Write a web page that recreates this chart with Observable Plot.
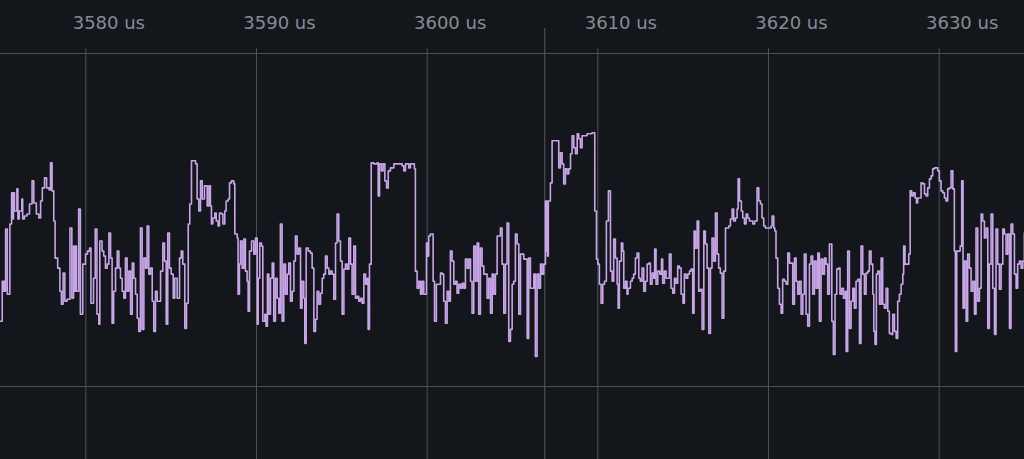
<!DOCTYPE html>
<html>
<head>
<meta charset="utf-8">
<script src="https://cdn.jsdelivr.net/npm/d3@7"></script>
<script src="https://cdn.jsdelivr.net/npm/@observablehq/plot@0.6"></script>
<style>
  html, body { margin: 0; padding: 0; background: #13171c; }
  #chart svg { display: block; }
</style>
</head>
<body>
<div id="chart"></div>
<script>
// x ticks (microseconds)
const tickValues = [3580, 3590, 3600, 3610, 3620, 3630];
const tickLabels = ["3580 us", "3590 us", "3600 us", "3610 us", "3620 us", "3630 us"];
const cursorTime = [3606.89];
const levelGrid = [0, 332];

// sample times (us) and signal levels (step-after)
const times = [
3575.00,3575.10,3575.15,3575.20,3575.25,3575.30,3575.40,3575.55,3575.65,3575.72,3575.76,3575.82,3575.96,3576.02,3576.10,3576.25,3576.30,3576.40,3576.55,3576.70,
3576.85,3576.95,3577.10,3577.25,3577.35,3577.45,3577.58,3577.70,3577.85,3577.93,3578.02,3578.12,3578.20,3578.35,3578.48,3578.57,3578.67,3578.77,3578.90,3579.07,
3579.18,3579.28,3579.35,3579.40,3579.45,3579.58,3579.68,3579.82,3579.98,3580.10,3580.22,3580.30,3580.45,3580.55,3580.65,3580.76,3580.82,3580.95,3581.05,3581.15,
3581.25,3581.35,3581.45,3581.54,3581.63,3581.74,3581.84,3581.94,3582.03,3582.13,3582.23,3582.32,3582.42,3582.52,3582.62,3582.72,3582.81,3582.91,3583.01,3583.10,
3583.20,3583.30,3583.40,3583.50,3583.59,3583.69,3583.79,3583.89,3583.98,3584.08,3584.18,3584.38,3584.51,3584.61,3584.71,3584.80,3584.90,3585.00,3585.12,3585.21,
3585.35,3585.49,3585.59,3585.68,3585.80,3585.90,3586.00,3586.09,3586.19,3586.33,3586.43,3586.52,3586.62,3586.72,3586.82,3586.95,
3587.01,3587.11,3587.21,3587.30,3587.36,3587.44,3587.56,3587.64,3587.75,3587.83,3587.95,3588.03,3588.14,3588.22,3588.34,3588.42,3588.53,3588.67,3588.73,3588.87,
3588.92,3589.00,3589.06,3589.16,3589.26,3589.35,3589.45,3589.51,3589.59,3589.71,3589.84,3589.94,3590.04,3590.10,3590.19,3590.29,3590.37,3590.49,3590.56,3590.64,
3590.72,3590.82,3590.92,3591.01,3591.11,3591.21,3591.31,3591.40,3591.50,3591.60,3591.70,3591.80,3591.89,3591.99,3592.09,3592.19,3592.28,3592.38,3592.48,3592.58,
3592.67,3592.77,3592.83,3592.91,3593.03,3593.16,3593.26,3593.36,3593.46,3593.55,3593.65,3593.75,3593.85,3593.94,3594.04,3594.14,3594.24,3594.33,3594.43,3594.53,
3594.63,3594.72,3594.82,3594.92,3595.02,3595.12,3595.21,3595.31,3595.41,3595.51,3595.60,3595.70,3595.80,3595.90,3595.99,3596.09,3596.19,3596.29,3596.39,3596.48,
3596.54,3596.62,3596.72,3596.87,3597.07,3597.13,3597.21,3597.32,3597.42,3597.52,3597.62,3597.72,3597.85,3598.05,3598.34,3598.53,3598.63,3598.73,3598.92,
3599.02,3599.25,3599.31,3599.41,3599.51,3599.61,3599.70,3599.80,3599.96,3600.04,3600.09,3600.19,3600.35,3600.43,3600.54,3600.78,3600.88,3600.97,3601.07,3601.17,
3601.27,3601.36,3601.46,3601.56,3601.66,3601.75,3601.85,3601.95,3602.05,3602.15,3602.24,3602.34,3602.44,3602.54,3602.63,3602.73,3602.83,3602.93,3603.02,3603.12,
3603.22,3603.32,3603.51,3603.61,3603.71,3603.81,3603.90,3604.00,3604.10,3604.29,3604.39,3604.49,3604.59,3604.68,3604.78,3604.88,3604.98,3605.07,3605.17,3605.27,
3605.37,3605.47,3605.66,3605.86,3605.95,3606.05,3606.25,3606.34,3606.44,3606.54,3606.64,3606.73,3606.83,3606.93,3606.97,3607.01,3607.05,3607.10,3607.15,3607.22,
3607.32,3607.71,3607.81,3607.91,3608.00,3608.10,3608.20,3608.30,3608.40,3608.49,3608.59,3608.69,3608.79,3608.88,3608.98,3609.08,3609.37,3609.66,3609.82,3609.92,
3610.00,3610.09,3610.19,3610.29,3610.39,3610.50,3610.62,3610.74,3610.84,3610.93,
3611.03,3611.13,3611.19,3611.26,3611.38,3611.46,3611.52,3611.62,3611.71,3611.77,3611.91,3612.01,3612.10,3612.20,3612.30,3612.40,3612.49,3612.59,3612.69,3612.79,
3612.89,3612.98,3613.08,3613.18,3613.28,3613.33,3613.41,3613.51,3613.63,3613.73,3613.80,3613.90,3614.00,3614.19,3614.29,3614.39,3614.49,3614.58,3614.68,3614.78,
3614.88,3614.99,3615.07,3615.17,3615.27,3615.37,3615.46,3615.56,3615.64,3615.72,3615.82,3615.91,3616.01,3616.11,3616.21,3616.30,3616.40,3616.50,3616.60,3616.69,
3616.79,3616.89,3616.99,3617.08,3617.18,3617.28,3617.38,3617.48,3617.67,3617.77,3617.87,3617.96,3618.06,3618.16,3618.22,3618.30,3618.41,3618.49,3618.59,3618.69,
3618.78,3618.88,3619.08,3619.19,3619.33,3619.43,3619.53,3619.62,3619.72,3619.82,3620.15,3620.21,3620.31,3620.37,3620.44,3620.54,3620.64,3620.74,3620.83,3620.93,
3621.03,3621.13,3621.23,3621.42,3621.52,3621.62,3621.71,3621.81,3621.91,3622.01,3622.10,3622.20,3622.30,3622.40,3622.49,3622.59,3622.69,3622.79,3622.89,3622.98,
3623.08,3623.18,3623.28,
3623.37,3623.47,3623.57,3623.71,3623.80,3623.90,3624.00,3624.10,3624.19,3624.29,3624.39,3624.49,3624.55,3624.64,3624.74,3624.84,3624.94,3625.03,3625.13,3625.23,
3625.33,3625.42,3625.52,3625.62,3625.72,3625.82,3625.91,3626.01,3626.11,3626.17,3626.24,3626.32,3626.40,3626.50,3626.60,3626.69,3626.79,3626.89,3626.99,3627.08,
3627.18,3627.28,3627.38,3627.48,3627.57,3627.67,3627.77,3627.87,3627.92,3628.00,3628.22,3628.30,3628.39,3628.49,3628.59,3628.67,3628.74,3628.94,3629.04,3629.14,
3629.23,3629.33,3629.43,3629.53,3629.62,3629.72,3629.92,3630.01,3630.11,3630.21,3630.31,3630.40,3630.50,3630.60,3630.70,3630.80,3630.89,3630.95,3631.03,3631.23,
3631.32,3631.40,3631.48,3631.58,3631.67,3631.77,3631.87,3631.97,3632.07,3632.16,3632.26,3632.36,3632.46,3632.55,3632.65,3632.75,3632.85,3632.94,3633.04,3633.14,
3633.24,3633.33,3633.43,3633.53,3633.63,3633.73,3633.82,3633.92,3634.02,3634.12,3634.21,3634.31,3634.41,3634.51,3634.60,3634.70,3634.80,3634.90,3634.99
];
const levels = [
65,105,95,105,95,157,92,162,193,167,193,175,197,167,175,187,167,170,172,182,
205,183,172,168,185,198,208,198,196,223,195,165,128,118,95,82,113,85,87,158,
88,140,95,140,95,177,72,122,132,135,138,83,108,157,72,62,145,135,130,118,
122,153,128,63,95,118,135,118,108,95,88,128,95,115,72,123,108,92,68,55,
158,57,128,118,160,112,118,85,55,95,85,115,143,125,62,153,118,112,88,108,
88,128,135,122,58,83,162,182,225,225,222,187,175,205,187,200,
200,180,200,180,162,168,173,165,160,173,172,162,175,185,187,203,205,202,152,148,
92,122,145,118,147,115,105,75,135,145,132,148,62,108,143,140,65,72,60,112,
72,108,123,65,108,88,73,162,65,122,92,112,123,85,95,125,150,132,138,78,
105,88,43,138,135,133,118,55,67,95,82,93,108,112,130,118,112,115,112,87,
143,172,145,125,72,117,122,117,148,122,92,140,88,90,85,88,83,112,102,108,
57,122,223,222,223,190,222,215,222,205,198,215,218,222,222,220,215,222,218,
222,217,115,98,105,92,105,92,143,130,150,152,105,65,102,113,112,85,63,95,
85,135,125,102,105,93,102,98,103,98,127,118,127,105,73,140,105,143,72,138,
120,112,88,108,73,112,92,112,150,158,122,73,122,163,45,57,102,105,152,142,
72,132,127,48,128,98,112,30,112,98,122,112,122,185,135,185,130,185,185,203,
245,218,233,222,202,217,212,217,232,250,238,232,252,247,238,250,252,253,175,127,
122,102,83,102,105,165,195,115,105,147,
128,102,78,125,143,135,98,105,92,98,105,108,112,128,133,108,105,118,95,105,
122,123,102,113,108,137,102,115,112,127,103,115,108,132,98,93,108,103,120,118,
92,83,112,108,112,115,117,73,155,138,165,95,97,57,155,142,118,53,118,148,
125,173,132,118,113,68,115,158,160,167,177,165,168,177,207,185,175,168,162,172,
168,165,162,165,198,185,182,168,160,158,160,170,158,155,128,98,82,73,107,105,
102,133,123,82,128,105,92,105,72,92,132,72,60,122,130,92,125,98,133,65,
127,112,128,
122,92,142,65,32,92,117,118,92,98,88,95,35,135,58,85,98,78,105,107,
43,140,112,92,113,115,135,122,92,55,42,112,115,82,128,82,78,98,75,53,
52,72,55,48,85,92,102,112,140,122,132,195,190,193,188,183,188,203,202,192,
190,198,207,210,217,218,215,205,195,193,188,185,197,198,215,197,135,35,135,140,
205,78,125,65,132,118,95,105,72,158,85,98,172,165,148,158,58,122,172,98,
52,157,122,97,122,157,152,132,152,58,162,152,112,98,122,125,118,125,153
];

const signal = times.map((t, i) => ({t, v: levels[i]}));

const W = 1024, H = 459;
const chart = Plot.plot({
  width: W,
  height: H,
  marginTop: 53,
  marginBottom: 73,
  marginLeft: 0,
  marginRight: 0,
  style: {background: "#13171c", color: "#8b9098", fontFamily: "DejaVu Sans, sans-serif"},
  x: {domain: [3575, 3635], axis: null},
  y: {domain: [0, 332], axis: null},
  marks: [
    Plot.ruleY(levelGrid, {stroke: "#4b5057", strokeWidth: 1, strokeOpacity: 1}),
    Plot.ruleX(tickValues, {stroke: "#4b5057", strokeWidth: 1, strokeOpacity: 1, insetTop: -5, insetBottom: -73}),
    Plot.ruleX(cursorTime, {stroke: "#565b62", strokeWidth: 1, strokeOpacity: 1, insetTop: -25, insetBottom: -73}),
    Plot.line(signal, {x: "t", y: "v", curve: "step-after", stroke: "#c7a5e6", strokeWidth: 1.6}),
    Plot.text(tickValues, {
      x: d => d,
      text: (d, i) => tickLabels[i],
      frameAnchor: "top",
      dy: -30,
      dx: 23,
      fill: "#868b93",
      fontSize: 18,
      textAnchor: "middle",
      lineAnchor: "middle"
    })
  ]
});
document.getElementById("chart").appendChild(chart);
</script>
</body>
</html>
